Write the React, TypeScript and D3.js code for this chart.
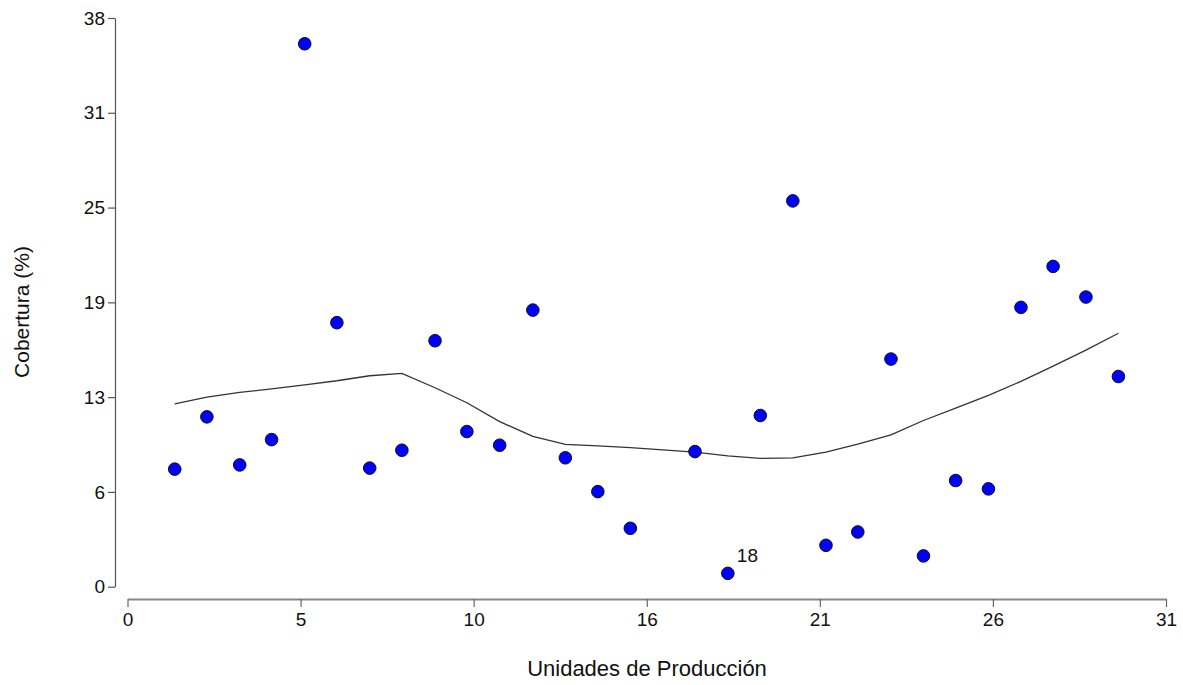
import React, { useRef, useEffect } from "react";
import * as d3 from "d3";

/* production units (x) and cover % (y) — unit 16 has no value */
const unitX = [
  1.41, 2.37, 3.35, 4.3, 5.29, 6.25, 7.23, 8.19, 9.18, 10.13, 11.11, 12.1,
  13.07, 14.04, 15.01, 16.94, 17.92, 18.89, 19.86, 20.85, 21.8, 22.79, 23.76,
  24.72, 25.7, 26.67, 27.63, 28.61, 29.58,
];
const cover = [
  7.75, 11.2, 8.03, 9.7, 35.8, 17.41, 7.82, 9.0, 16.22, 10.23, 9.33, 18.24,
  8.5, 6.27, 3.85, 8.91, 0.88, 11.29, 25.44, 2.73, 3.61, 15.01, 2.03, 7.0,
  6.45, 18.42, 21.12, 19.1, 13.86,
];
/* smoothed curve, one value per point */
const smooth = [
  12.06, 12.5, 12.81, 13.05, 13.31, 13.58, 13.91, 14.07, 13.12, 12.13, 10.89,
  9.91, 9.39, 9.29, 9.17, 8.87, 8.63, 8.46, 8.49, 8.87, 9.4, 10.01, 10.96,
  11.78, 12.62, 13.54, 14.55, 15.6, 16.71,
];
/* labelled point */
const labelIndex = 16;
const labelText = "18";

const xTickValues = [0, 5.167, 10.333, 15.5, 20.667, 25.833, 31];
const xTickLabels = ["0", "5", "10", "16", "21", "26", "31"];
const yTickValues = [0, 6.25, 12.5, 18.75, 25, 31.25, 37.5];
const yTickLabels = ["0", "6", "13", "19", "25", "31", "38"];

export default function App() {
  const svgRef = useRef<SVGSVGElement>(null);

  useEffect(() => {
    const W = 1183;
    const H = 685;
    const FONT = "'Liberation Sans', Arial, sans-serif";

    const x = d3.scaleLinear().domain([0, 31]).range([127.5, 1166]);
    const y = d3.scaleLinear().domain([0, 37.5]).range([586.7, 18]);

    const svg = d3
      .select(svgRef.current)
      .attr("viewBox", `0 0 ${W} ${H}`)
      .style("font-family", FONT);
    svg.selectAll("*").remove();

    /* ---- y axis (offset left) ---- */
    const yAxis = svg.append("g").attr("transform", "translate(115,0)");
    yAxis
      .call(
        d3
          .axisLeft(y)
          .tickValues(yTickValues)
          .tickFormat((_, i) => yTickLabels[i])
          .tickSize(7)
          .tickSizeOuter(0)
          .tickPadding(3)
      )
      .call((g) => g.select(".domain").attr("stroke", "#555").attr("stroke-width", 1.2))
      .call((g) => g.selectAll(".tick line").attr("stroke", "#555").attr("stroke-width", 1.2))
      .call((g) =>
        g
          .selectAll(".tick text")
          .attr("fill", "#111")
          .style("font-size", "19px")
          .style("font-family", FONT)
      );

    /* ---- x axis (offset below) ---- */
    const xAxis = svg.append("g").attr("transform", "translate(0,599)");
    xAxis
      .call(
        d3
          .axisBottom(x)
          .tickValues(xTickValues)
          .tickFormat((_, i) => xTickLabels[i])
          .tickSize(8)
          .tickSizeOuter(0)
          .tickPadding(6)
      )
      .call((g) => g.select(".domain").attr("stroke", "#888").attr("stroke-width", 2))
      .call((g) => g.selectAll(".tick line").attr("stroke", "#666").attr("stroke-width", 1.2))
      .call((g) =>
        g
          .selectAll(".tick text")
          .attr("fill", "#111")
          .style("font-size", "19px")
          .style("font-family", FONT)
      );

    /* ---- axis titles ---- */
    svg
      .append("text")
      .attr("x", 647)
      .attr("y", 676)
      .attr("text-anchor", "middle")
      .attr("fill", "#111")
      .style("font-size", "22px")
      .text("Unidades de Producción");
    svg
      .append("text")
      .attr("transform", "translate(29,312) rotate(-90)")
      .attr("text-anchor", "middle")
      .attr("fill", "#111")
      .style("font-size", "21px")
      .text("Cobertura (%)");

    const pts = unitX.map((u, i) => ({ u, c: cover[i], s: smooth[i] }));

    /* ---- smoothed line ---- */
    const line = d3
      .line<{ u: number; s: number }>()
      .x((d) => x(d.u))
      .y((d) => y(d.s));
    svg
      .append("path")
      .datum(pts)
      .attr("d", line)
      .attr("fill", "none")
      .attr("stroke", "#333")
      .attr("stroke-width", 1.3);

    /* ---- points ---- */
    svg
      .append("g")
      .selectAll("circle")
      .data(pts)
      .join("circle")
      .attr("cx", (d) => x(d.u))
      .attr("cy", (d) => y(d.c))
      .attr("r", 6.3)
      .attr("fill", "#0000FF")
      .attr("stroke", "#111")
      .attr("stroke-width", 1);

    /* ---- point label ---- */
    const lp = pts[labelIndex];
    svg
      .append("text")
      .attr("x", x(lp.u) + 9)
      .attr("y", y(lp.c) - 11)
      .attr("fill", "#111")
      .style("font-size", "19px")
      .text(labelText);
  }, []);

  return (
    <div style={{ position: "absolute", left: 0, top: 0, background: "#fff" }}>
      <svg ref={svgRef} width={1183} height={685} style={{ display: "block" }} />
    </div>
  );
}
